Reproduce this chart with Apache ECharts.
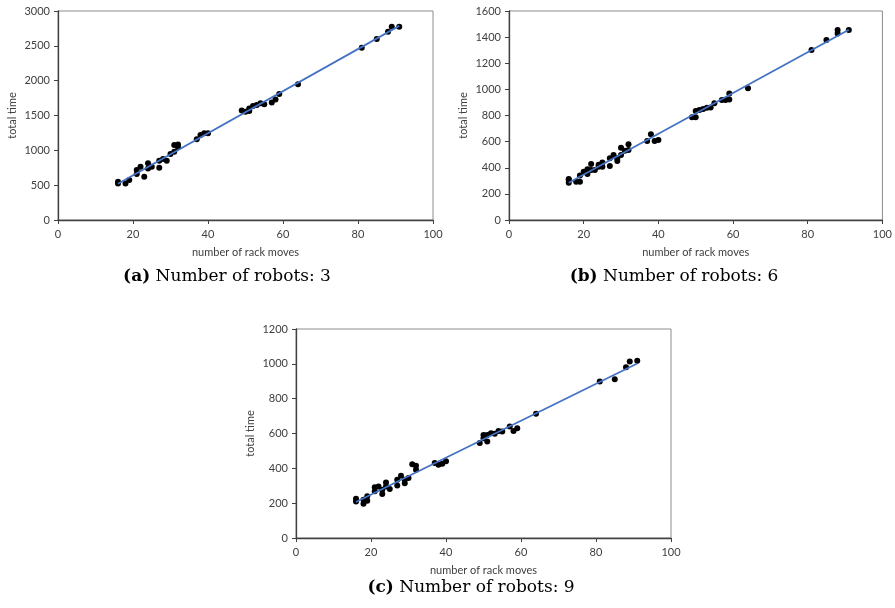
<!DOCTYPE html>
<html>
<head>
<meta charset="utf-8">
<script src="https://cdn.jsdelivr.net/npm/echarts@6/dist/echarts.min.js"></script>
<style>
html,body{margin:0;padding:0;background:#fff;}
#c{width:895px;height:608px;}
</style>
</head>
<body>
<div id="c"></div>
<script>
// ---- data ----
const movesA = [16,16,18,19,21,21,22,23,24,24,25,27,27,28,29,30,31,31,32,32,37,38,39,40,49,50,51,51,52,53,54,55,57,58,59,64,81,85,88,89,91];
const timeA  = [550,525,525,575,717,660,765,622,813,740,765,850,750,875,850,947,1075,980,1085,1045,1160,1220,1245,1245,1570,1555,1600,1565,1635,1650,1675,1660,1685,1730,1810,1947,2473,2598,2703,2775,2775];

const movesB = [16,16,16,18,19,19,20,21,21,22,22,23,24,24,25,25,27,27,28,29,29,30,30,31,32,32,37,38,39,40,49,50,50,51,52,53,54,55,57,58,59,59,64,81,85,88,88,91];
const timeB  = [306,286,314,293,293,340,370,352,388,428,383,383,408,423,408,441,413,472,497,451,472,553,497,530,579,535,604,656,604,612,786,786,834,842,849,860,862,893,918,918,923,969,1008,1301,1378,1454,1428,1454];

const movesC = [16,16,18,18,19,19,21,21,22,23,23,24,24,25,27,27,28,29,29,30,31,32,32,37,38,39,40,49,50,50,51,51,52,53,54,55,57,58,59,64,81,85,88,89,91];
const timeC  = [225,210,197,220,239,214,292,268,296,252,277,319,296,281,334,302,357,315,334,344,424,415,392,430,420,426,440,545,592,573,554,592,602,598,615,611,640,615,630,713,898,911,980,1013,1017];

const yMaxA = 3000, yStepA = 500;
const yMaxB = 1600, yStepB = 200;
const yMaxC = 1200, yStepC = 200;
const captions = [["(a)", "Number of robots: 3"], ["(b)", "Number of robots: 6"], ["(c)", "Number of robots: 9"]];

function zip(xs, ys){ return xs.map((x,i)=>[x, ys[i]]); }
function fit(xs, ys){
  const n = xs.length;
  let sx=0, sy=0, sxx=0, sxy=0;
  for(let i=0;i<n;i++){ sx+=xs[i]; sy+=ys[i]; sxx+=xs[i]*xs[i]; sxy+=xs[i]*ys[i]; }
  const b = (n*sxy - sx*sy)/(n*sxx - sx*sx);
  const a = (sy - b*sx)/n;
  const x0 = Math.min(...xs), x1 = Math.max(...xs);
  return [[x0, a+b*x0],[x1, a+b*x1]];
}

const grids = [
  {left:58, top:11, width:375, height:209},
  {left:509, top:11, width:374, height:209},
  {left:296, top:329, width:375, height:209}
];
const yCfg = [[yMaxA,yStepA],[yMaxB,yStepB],[yMaxC,yStepC]];
const sets = [[movesA,timeA],[movesB,timeB],[movesC,timeC]];

const labelFont = {color:'#404040', fontSize:11, fontFamily:'Lato, "Open Sans", sans-serif'};
const plain = v => String(v);

const option = {
  animation:false,
  backgroundColor:'#fff',
  grid: grids.map(g=>Object.assign({show:true, borderColor:'#8c8c8c', borderWidth:1, backgroundColor:'#fff'}, g)),
  xAxis: grids.map((g,i)=>({
    gridIndex:i, type:'value', min:0, max:100, interval:20,
    name:'number of rack moves', nameLocation:'middle', nameGap:27,
    nameTextStyle:Object.assign({}, labelFont, {fontSize:11}),
    axisLine:{show:true, onZero:false, lineStyle:{color:'#404040', width:1.3}},
    axisTick:{show:true, length:4, lineStyle:{color:'#404040'}},
    axisLabel:Object.assign({margin:9, formatter:plain}, labelFont),
    splitLine:{show:false}
  })),
  yAxis: grids.map((g,i)=>({
    gridIndex:i, type:'value', min:0, max:yCfg[i][0], interval:yCfg[i][1],
    name:'total time', nameLocation:'middle', nameGap:40,
    nameTextStyle:Object.assign({}, labelFont, {fontSize:11}),
    axisLine:{show:true, lineStyle:{color:'#404040', width:1.3}},
    axisTick:{show:true, length:4, lineStyle:{color:'#404040'}},
    axisLabel:Object.assign({margin:8, formatter:plain}, labelFont),
    splitLine:{show:false}
  })),
  series: []
};
sets.forEach((s,i)=>{
  option.series.push({
    type:'scatter', xAxisIndex:i, yAxisIndex:i, data:zip(s[0], s[1]),
    symbol:'circle', symbolSize:6, itemStyle:{color:'#000', opacity:1}, z:2
  });
  option.series.push({
    type:'line', xAxisIndex:i, yAxisIndex:i, data:fit(s[0], s[1]),
    symbol:'none', lineStyle:{color:'#4472C4', width:1.8}, z:3
  });
});
const capPos = [[227,277],[674,277],[471,588]];
option.graphic = captions.map((c,i)=>({
  type:'text', x:capPos[i][0], y:capPos[i][1],
  style:{
    text:'{b|'+c[0]+'} '+c[1],
    font:'17px "DejaVu Serif", serif', fill:'#000',
    rich:{b:{fontWeight:'bold', fontSize:17, fontFamily:'DejaVu Serif'}},
    textAlign:'center', textVerticalAlign:'middle'
  }
}));
const chart = echarts.init(document.getElementById('c'), null, {renderer:'canvas'});
chart.setOption(option);
</script>
</body>
</html>
